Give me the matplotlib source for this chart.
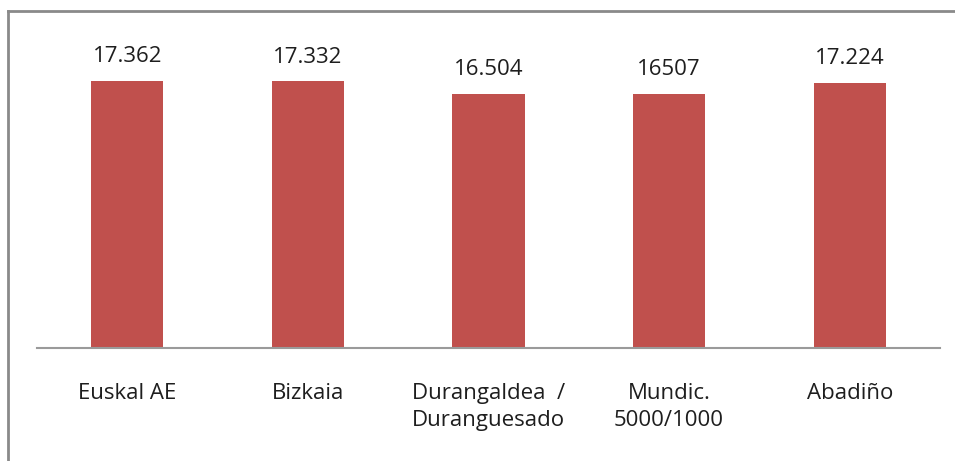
import matplotlib.pyplot as plt
from matplotlib.lines import Line2D

categories = ['Euskal AE', 'Bizkaia', 'Durangaldea  /\nDuranguesado', 'Mundic.\n5000/1000', 'Abadiño']
values = [17.362, 17.332, 16.504, 16.507, 17.224]
value_labels = ['17.362', '17.332', '16.504', '16507', '17.224']

plt.rcParams['font.family'] = ['Open Sans', 'DejaVu Sans']

fig = plt.figure(figsize=(9.55, 4.61), dpi=100)
ax = fig.add_axes([37/955, 113/461, 903/955, 307.6/461])

x = range(len(categories))
bars = ax.bar(x, values, width=0.40, color='#C0504D', zorder=2)
for b, lab in zip(bars, value_labels):
 ax.annotate(lab, (b.get_x() + b.get_width()/2, b.get_height()), xytext=(0, 10),
  textcoords='offset points', ha='center', va='bottom', fontsize=16, color='#1e1e1e')

ax.set_xlim(-0.5, len(categories) - 0.5)
ax.set_ylim(0, 20)
ax.set_xticks(list(x))
ax.set_xticklabels(categories, fontsize=16, color='#1e1e1e', linespacing=1.38)
ax.tick_params(axis='x', length=0, pad=25)
ax.set_yticks([])
for s in ['top', 'right', 'left']:
 ax.spines[s].set_visible(False)
ax.spines['bottom'].set_color('#9a9a9a')
ax.spines['bottom'].set_linewidth(1.5)

# outer frame (left and top only, picture is cropped)
fx = 8/955
fy = 1 - 11/461
fig.add_artist(Line2D([fx, fx], [0, fy], transform=fig.transFigure, color='#8a8a8a', lw=2))
fig.add_artist(Line2D([fx, 1], [fy, fy], transform=fig.transFigure, color='#8a8a8a', lw=2))

fig.savefig('out.png', dpi=100)
plt.close(fig)
